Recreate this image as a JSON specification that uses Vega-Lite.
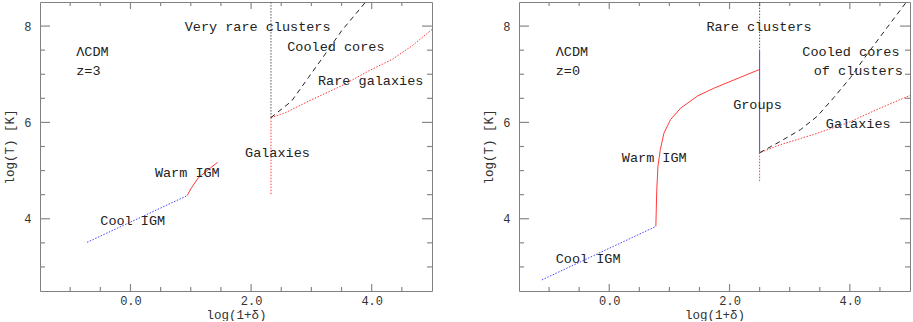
{
  "$schema": "https://vega.github.io/schema/vega-lite/v6.json",
  "padding": {"left": 3, "top": 1, "right": 0, "bottom": 0},
  "background": "white",
  "config": {
    "view": {"stroke": "#808080", "strokeWidth": 1},
    "axis": {
      "domain": false, "grid": false, "ticks": false,
      "labelFont": "Liberation Mono", "labelFontSize": 12, "labelColor": "#333333",
      "titleFont": "Liberation Mono", "titleFontSize": 12.5, "titleFontWeight": "normal", "titleColor": "#333333"
    },
    "concat": {"spacing": 49}
  },
  "datasets": {
    "ticks": [
      {"axis": "x", "v": -1, "kind": "minor"}, {"axis": "x", "v": -0.5, "kind": "minor"}, {"axis": "x", "v": 0, "kind": "major"},
      {"axis": "x", "v": 0.5, "kind": "minor"}, {"axis": "x", "v": 1, "kind": "minor"}, {"axis": "x", "v": 1.5, "kind": "minor"},
      {"axis": "x", "v": 2, "kind": "major"}, {"axis": "x", "v": 2.5, "kind": "minor"}, {"axis": "x", "v": 3, "kind": "minor"},
      {"axis": "x", "v": 3.5, "kind": "minor"}, {"axis": "x", "v": 4, "kind": "major"}, {"axis": "x", "v": 4.5, "kind": "minor"},
      {"axis": "y", "v": 3, "kind": "minor"}, {"axis": "y", "v": 3.5, "kind": "minor"}, {"axis": "y", "v": 4, "kind": "major"},
      {"axis": "y", "v": 4.5, "kind": "minor"}, {"axis": "y", "v": 5, "kind": "minor"}, {"axis": "y", "v": 5.5, "kind": "minor"},
      {"axis": "y", "v": 6, "kind": "major"}, {"axis": "y", "v": 6.5, "kind": "minor"}, {"axis": "y", "v": 7, "kind": "minor"},
      {"axis": "y", "v": 7.5, "kind": "minor"}, {"axis": "y", "v": 8, "kind": "major"}
    ],
    "lines": [
      {"panel": "z3", "series": "Cool IGM", "order": 1, "x": -0.72, "y": 3.51},
      {"panel": "z3", "series": "Cool IGM", "order": 2, "x": 0.94, "y": 4.48},
      {"panel": "z3", "series": "Warm IGM", "order": 1, "x": 0.94, "y": 4.48},
      {"panel": "z3", "series": "Warm IGM", "order": 2, "x": 1.0, "y": 4.62},
      {"panel": "z3", "series": "Warm IGM", "order": 3, "x": 1.125, "y": 4.85},
      {"panel": "z3", "series": "Warm IGM", "order": 4, "x": 1.32, "y": 5.05},
      {"panel": "z3", "series": "Warm IGM", "order": 5, "x": 1.445, "y": 5.17},
      {"panel": "z3", "series": "Galaxies", "order": 1, "x": 2.33, "y": 4.51},
      {"panel": "z3", "series": "Galaxies", "order": 2, "x": 2.33, "y": 6.1},
      {"panel": "z3", "series": "Very rare clusters", "order": 1, "x": 2.33, "y": 6.1},
      {"panel": "z3", "series": "Very rare clusters", "order": 2, "x": 2.33, "y": 8.5},
      {"panel": "z3", "series": "Cooled cores", "order": 1, "x": 2.33, "y": 6.1},
      {"panel": "z3", "series": "Cooled cores", "order": 2, "x": 2.67, "y": 6.44},
      {"panel": "z3", "series": "Cooled cores", "order": 3, "x": 2.95, "y": 6.93},
      {"panel": "z3", "series": "Cooled cores", "order": 4, "x": 3.23, "y": 7.42},
      {"panel": "z3", "series": "Cooled cores", "order": 5, "x": 3.5, "y": 7.9},
      {"panel": "z3", "series": "Cooled cores", "order": 6, "x": 3.9, "y": 8.5},
      {"panel": "z3", "series": "Rare galaxies", "order": 1, "x": 2.33, "y": 6.1},
      {"panel": "z3", "series": "Rare galaxies", "order": 2, "x": 2.565, "y": 6.2},
      {"panel": "z3", "series": "Rare galaxies", "order": 3, "x": 2.95, "y": 6.44},
      {"panel": "z3", "series": "Rare galaxies", "order": 4, "x": 3.5, "y": 6.76},
      {"panel": "z3", "series": "Rare galaxies", "order": 5, "x": 3.95, "y": 7.07},
      {"panel": "z3", "series": "Rare galaxies", "order": 6, "x": 4.34, "y": 7.31},
      {"panel": "z3", "series": "Rare galaxies", "order": 7, "x": 4.67, "y": 7.59},
      {"panel": "z3", "series": "Rare galaxies", "order": 8, "x": 5.0, "y": 7.93},
      {"panel": "z0", "series": "Cool IGM", "order": 1, "x": -1.12, "y": 2.73},
      {"panel": "z0", "series": "Cool IGM", "order": 2, "x": 0.775, "y": 3.84},
      {"panel": "z0", "series": "Warm IGM", "order": 1, "x": 0.775, "y": 3.84},
      {"panel": "z0", "series": "Warm IGM", "order": 2, "x": 0.79, "y": 4.6},
      {"panel": "z0", "series": "Warm IGM", "order": 3, "x": 0.81, "y": 5.09},
      {"panel": "z0", "series": "Warm IGM", "order": 4, "x": 0.85, "y": 5.44},
      {"panel": "z0", "series": "Warm IGM", "order": 5, "x": 0.91, "y": 5.78},
      {"panel": "z0", "series": "Warm IGM", "order": 6, "x": 1.02, "y": 6.06},
      {"panel": "z0", "series": "Warm IGM", "order": 7, "x": 1.19, "y": 6.3},
      {"panel": "z0", "series": "Warm IGM", "order": 8, "x": 1.47, "y": 6.55},
      {"panel": "z0", "series": "Warm IGM", "order": 9, "x": 1.74, "y": 6.71},
      {"panel": "z0", "series": "Warm IGM", "order": 10, "x": 2.07, "y": 6.88},
      {"panel": "z0", "series": "Warm IGM", "order": 11, "x": 2.5, "y": 7.1},
      {"panel": "z0", "series": "Groups", "order": 1, "x": 2.5, "y": 5.37},
      {"panel": "z0", "series": "Groups", "order": 2, "x": 2.5, "y": 7.48},
      {"panel": "z0", "series": "Rare clusters", "order": 1, "x": 2.5, "y": 7.48},
      {"panel": "z0", "series": "Rare clusters", "order": 2, "x": 2.5, "y": 8.5},
      {"panel": "z0", "series": "Galaxies", "order": 1, "x": 2.5, "y": 4.78},
      {"panel": "z0", "series": "Galaxies", "order": 2, "x": 2.5, "y": 5.37},
      {"panel": "z0", "series": "Galaxies", "order": 3, "x": 2.85, "y": 5.54},
      {"panel": "z0", "series": "Galaxies", "order": 4, "x": 3.4, "y": 5.75},
      {"panel": "z0", "series": "Galaxies", "order": 5, "x": 3.96, "y": 5.99},
      {"panel": "z0", "series": "Galaxies", "order": 6, "x": 4.51, "y": 6.3},
      {"panel": "z0", "series": "Galaxies", "order": 7, "x": 5.0, "y": 6.56},
      {"panel": "z0", "series": "Cooled cores", "order": 1, "x": 2.5, "y": 5.37},
      {"panel": "z0", "series": "Cooled cores", "order": 2, "x": 2.85, "y": 5.61},
      {"panel": "z0", "series": "Cooled cores", "order": 3, "x": 3.18, "y": 5.85},
      {"panel": "z0", "series": "Cooled cores", "order": 4, "x": 3.46, "y": 6.13},
      {"panel": "z0", "series": "Cooled cores", "order": 5, "x": 3.73, "y": 6.51},
      {"panel": "z0", "series": "Cooled cores", "order": 6, "x": 4.01, "y": 6.93},
      {"panel": "z0", "series": "Cooled cores", "order": 7, "x": 4.29, "y": 7.42},
      {"panel": "z0", "series": "Cooled cores", "order": 8, "x": 4.62, "y": 7.97},
      {"panel": "z0", "series": "Cooled cores", "order": 9, "x": 4.94, "y": 8.5}
    ],
    "labels": [
      {"panel": "z3", "text": "ΛCDM", "x": -0.9, "y": 7.46},
      {"panel": "z3", "text": "z=3", "x": -0.9, "y": 7.07},
      {"panel": "z3", "text": "Very rare clusters", "x": 0.9, "y": 7.99},
      {"panel": "z3", "text": "Cooled cores", "x": 2.6, "y": 7.57},
      {"panel": "z3", "text": "Rare galaxies", "x": 3.11, "y": 6.87},
      {"panel": "z3", "text": "Galaxies", "x": 1.9, "y": 5.37},
      {"panel": "z3", "text": "Warm IGM", "x": 0.405, "y": 4.96},
      {"panel": "z3", "text": "Cool IGM", "x": -0.5, "y": 3.96},
      {"panel": "z0", "text": "ΛCDM", "x": -0.89, "y": 7.46},
      {"panel": "z0", "text": "z=0", "x": -0.89, "y": 7.07},
      {"panel": "z0", "text": "Rare clusters", "x": 1.615, "y": 7.99},
      {"panel": "z0", "text": "Cooled cores", "x": 3.21, "y": 7.47},
      {"panel": "z0", "text": "of clusters", "x": 3.4, "y": 7.07},
      {"panel": "z0", "text": "Groups", "x": 2.06, "y": 6.36},
      {"panel": "z0", "text": "Galaxies", "x": 3.6, "y": 5.96},
      {"panel": "z0", "text": "Warm IGM", "x": 0.21, "y": 5.26},
      {"panel": "z0", "text": "Cool IGM", "x": -0.89, "y": 3.16}
    ]
  },
  "hconcat": [
    {
      "width": 392, "height": 289,
      "resolve": {"scale": {"size": "independent"}},
      "layer": [
        {
          "data": {"name": "ticks"},
          "transform": [{"filter": "datum.axis == 'x'"}],
          "mark": {"type": "tick", "orient": "vertical", "thickness": 1.2, "color": "#888888", "opacity": 1, "clip": true},
          "encoding": {
            "x": {"field": "v", "type": "quantitative", "scale": {"domain": [-1.5, 5], "nice": false, "zero": false},
                  "axis": {"orient": "bottom", "values": [0, 2, 4], "labelPadding": 4, "title": "log(1+δ)", "titlePadding": 2}},
            "y": {"datum": 2.5, "type": "quantitative", "scale": {"domain": [2.5, 8.5], "nice": false, "zero": false},
                  "axis": {"orient": "left", "values": [4, 6, 8], "labelPadding": 9, "title": "log(T)  [K]", "titlePadding": 7}},
            "size": {"field": "kind", "type": "ordinal", "scale": {"domain": ["major", "minor"], "range": [14, 8]}, "legend": null}
          }
        },
        {
          "data": {"name": "ticks"},
          "transform": [{"filter": "datum.axis == 'x'"}],
          "mark": {"type": "tick", "orient": "vertical", "thickness": 1.2, "color": "#888888", "opacity": 1, "clip": true},
          "encoding": {
            "x": {"field": "v", "type": "quantitative"},
            "y": {"datum": 8.5, "type": "quantitative"},
            "size": {"field": "kind", "type": "ordinal", "scale": {"domain": ["major", "minor"], "range": [14, 8]}, "legend": null}
          }
        },
        {
          "data": {"name": "ticks"},
          "transform": [{"filter": "datum.axis == 'y'"}],
          "mark": {"type": "tick", "orient": "horizontal", "thickness": 1.2, "color": "#888888", "opacity": 1, "clip": true},
          "encoding": {
            "y": {"field": "v", "type": "quantitative"},
            "x": {"datum": -1.5, "type": "quantitative"},
            "size": {"field": "kind", "type": "ordinal", "scale": {"domain": ["major", "minor"], "range": [20, 10]}, "legend": null}
          }
        },
        {
          "data": {"name": "ticks"},
          "transform": [{"filter": "datum.axis == 'y'"}],
          "mark": {"type": "tick", "orient": "horizontal", "thickness": 1.2, "color": "#888888", "opacity": 1, "clip": true},
          "encoding": {
            "y": {"field": "v", "type": "quantitative"},
            "x": {"datum": 5, "type": "quantitative"},
            "size": {"field": "kind", "type": "ordinal", "scale": {"domain": ["major", "minor"], "range": [20, 10]}, "legend": null}
          }
        },
        {
          "data": {"name": "lines"},
          "transform": [{"filter": "datum.panel == 'z3'"}, {"filter": {"field": "series", "oneOf": ["Cool IGM", "Galaxies", "Rare galaxies", "Very rare clusters", "Rare clusters"]}}],
          "mark": {"type": "line", "strokeDash": [1.5, 1.5], "strokeWidth": 1, "clip": true},
          "encoding": {
            "x": {"field": "x", "type": "quantitative"},
            "y": {"field": "y", "type": "quantitative"},
            "color": {"field": "series", "type": "nominal", "legend": null,
                      "scale": {"domain": ["Cool IGM", "Warm IGM", "Groups", "Galaxies", "Rare galaxies", "Very rare clusters", "Rare clusters", "Cooled cores"],
                                "range": ["#4444ff", "#ff3a3a", "#4444ff", "#ff3a3a", "#ff3a3a", "#555555", "#555555", "#222222"]}},
            "order": {"field": "order", "type": "quantitative"}
          }
        },
        {
          "data": {"name": "lines"},
          "transform": [{"filter": "datum.panel == 'z3'"}, {"filter": {"field": "series", "oneOf": ["Warm IGM", "Groups"]}}],
          "mark": {"type": "line", "strokeWidth": 1, "clip": true},
          "encoding": {
            "x": {"field": "x", "type": "quantitative"},
            "y": {"field": "y", "type": "quantitative"},
            "color": {"field": "series", "type": "nominal", "legend": null},
            "order": {"field": "order", "type": "quantitative"}
          }
        },
        {
          "data": {"name": "lines"},
          "transform": [{"filter": "datum.panel == 'z3'"}, {"filter": {"field": "series", "oneOf": ["Cooled cores"]}}],
          "mark": {"type": "line", "strokeWidth": 1, "strokeDash": [5, 4], "clip": true},
          "encoding": {
            "x": {"field": "x", "type": "quantitative"},
            "y": {"field": "y", "type": "quantitative"},
            "color": {"field": "series", "type": "nominal", "legend": null},
            "order": {"field": "order", "type": "quantitative"}
          }
        },
        {
          "data": {"name": "labels"},
          "transform": [{"filter": "datum.panel == 'z3'"}],
          "mark": {"type": "text", "align": "left", "baseline": "middle", "font": "Liberation Mono", "fontSize": 13.5, "color": "#222222"},
          "encoding": {
            "x": {"field": "x", "type": "quantitative"},
            "y": {"field": "y", "type": "quantitative"},
            "text": {"field": "text", "type": "nominal"}
          }
        }
      ]
    },
    {
      "width": 391, "height": 289,
      "resolve": {"scale": {"size": "independent"}},
      "layer": [
        {
          "data": {"name": "ticks"},
          "transform": [{"filter": "datum.axis == 'x'"}],
          "mark": {"type": "tick", "orient": "vertical", "thickness": 1.2, "color": "#888888", "opacity": 1, "clip": true},
          "encoding": {
            "x": {"field": "v", "type": "quantitative", "scale": {"domain": [-1.5, 5], "nice": false, "zero": false},
                  "axis": {"orient": "bottom", "values": [0, 2, 4], "labelPadding": 4, "title": "log(1+δ)", "titlePadding": 2}},
            "y": {"datum": 2.5, "type": "quantitative", "scale": {"domain": [2.5, 8.5], "nice": false, "zero": false},
                  "axis": {"orient": "left", "values": [4, 6, 8], "labelPadding": 9, "title": "log(T)  [K]", "titlePadding": 7}},
            "size": {"field": "kind", "type": "ordinal", "scale": {"domain": ["major", "minor"], "range": [14, 8]}, "legend": null}
          }
        },
        {
          "data": {"name": "ticks"},
          "transform": [{"filter": "datum.axis == 'x'"}],
          "mark": {"type": "tick", "orient": "vertical", "thickness": 1.2, "color": "#888888", "opacity": 1, "clip": true},
          "encoding": {
            "x": {"field": "v", "type": "quantitative"},
            "y": {"datum": 8.5, "type": "quantitative"},
            "size": {"field": "kind", "type": "ordinal", "scale": {"domain": ["major", "minor"], "range": [14, 8]}, "legend": null}
          }
        },
        {
          "data": {"name": "ticks"},
          "transform": [{"filter": "datum.axis == 'y'"}],
          "mark": {"type": "tick", "orient": "horizontal", "thickness": 1.2, "color": "#888888", "opacity": 1, "clip": true},
          "encoding": {
            "y": {"field": "v", "type": "quantitative"},
            "x": {"datum": -1.5, "type": "quantitative"},
            "size": {"field": "kind", "type": "ordinal", "scale": {"domain": ["major", "minor"], "range": [20, 10]}, "legend": null}
          }
        },
        {
          "data": {"name": "ticks"},
          "transform": [{"filter": "datum.axis == 'y'"}],
          "mark": {"type": "tick", "orient": "horizontal", "thickness": 1.2, "color": "#888888", "opacity": 1, "clip": true},
          "encoding": {
            "y": {"field": "v", "type": "quantitative"},
            "x": {"datum": 5, "type": "quantitative"},
            "size": {"field": "kind", "type": "ordinal", "scale": {"domain": ["major", "minor"], "range": [20, 10]}, "legend": null}
          }
        },
        {
          "data": {"name": "lines"},
          "transform": [{"filter": "datum.panel == 'z0'"}, {"filter": {"field": "series", "oneOf": ["Cool IGM", "Galaxies", "Rare galaxies", "Very rare clusters", "Rare clusters"]}}],
          "mark": {"type": "line", "strokeDash": [1.5, 1.5], "strokeWidth": 1, "clip": true},
          "encoding": {
            "x": {"field": "x", "type": "quantitative"},
            "y": {"field": "y", "type": "quantitative"},
            "color": {"field": "series", "type": "nominal", "legend": null,
                      "scale": {"domain": ["Cool IGM", "Warm IGM", "Groups", "Galaxies", "Rare galaxies", "Very rare clusters", "Rare clusters", "Cooled cores"],
                                "range": ["#4444ff", "#ff3a3a", "#4444ff", "#ff3a3a", "#ff3a3a", "#555555", "#555555", "#222222"]}},
            "order": {"field": "order", "type": "quantitative"}
          }
        },
        {
          "data": {"name": "lines"},
          "transform": [{"filter": "datum.panel == 'z0'"}, {"filter": {"field": "series", "oneOf": ["Warm IGM", "Groups"]}}],
          "mark": {"type": "line", "strokeWidth": 1, "clip": true},
          "encoding": {
            "x": {"field": "x", "type": "quantitative"},
            "y": {"field": "y", "type": "quantitative"},
            "color": {"field": "series", "type": "nominal", "legend": null},
            "order": {"field": "order", "type": "quantitative"}
          }
        },
        {
          "data": {"name": "lines"},
          "transform": [{"filter": "datum.panel == 'z0'"}, {"filter": {"field": "series", "oneOf": ["Cooled cores"]}}],
          "mark": {"type": "line", "strokeWidth": 1, "strokeDash": [5, 4], "clip": true},
          "encoding": {
            "x": {"field": "x", "type": "quantitative"},
            "y": {"field": "y", "type": "quantitative"},
            "color": {"field": "series", "type": "nominal", "legend": null},
            "order": {"field": "order", "type": "quantitative"}
          }
        },
        {
          "data": {"name": "labels"},
          "transform": [{"filter": "datum.panel == 'z0'"}],
          "mark": {"type": "text", "align": "left", "baseline": "middle", "font": "Liberation Mono", "fontSize": 13.5, "color": "#222222"},
          "encoding": {
            "x": {"field": "x", "type": "quantitative"},
            "y": {"field": "y", "type": "quantitative"},
            "text": {"field": "text", "type": "nominal"}
          }
        }
      ]
    }
  ]
}
